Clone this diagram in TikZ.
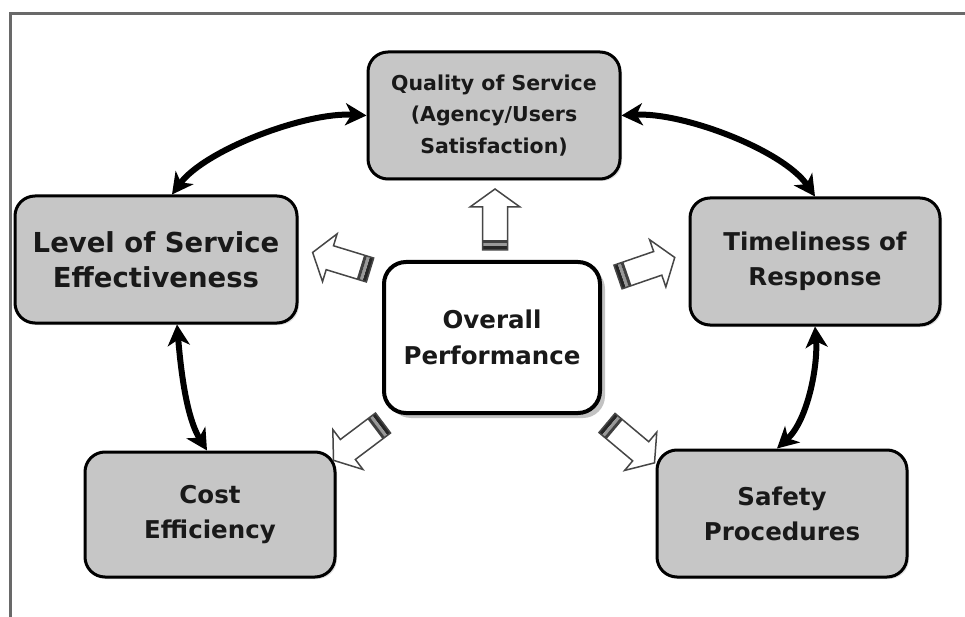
\documentclass[tikz,border=0pt]{standalone}
\usepackage{fontspec}
\setmainfont{DejaVu Sans}
\usetikzlibrary{arrows.meta,shadows,calc}
\definecolor{boxgray}{RGB}{198,198,198}
\definecolor{framegray}{RGB}{105,105,105}
\definecolor{txt}{RGB}{25,25,25}
\definecolor{shadowgray}{RGB}{135,135,135}
\definecolor{blockline}{RGB}{70,70,70}
\tikzset{
  pics/blockarrow/.style 2 args={code={
    \begin{scope}[rotate=#1]
      \fill[white] (0,-12.5) -- ({#2-18},-12.5) -- ({#2-18},-25) -- (#2,0) -- ({#2-18},25) -- ({#2-18},12.5) -- (0,12.5) -- cycle;
      \fill[black!85] (0,-12.5) rectangle (4,12.5);
      \fill[black!40] (4,-12.5) rectangle (7,12.5);
      \fill[black!75] (7,-12.5) rectangle (10,12.5);
      \draw[blockline, line width=1.5pt, line join=miter] (0,-12.5) -- ({#2-18},-12.5) -- ({#2-18},-25) -- (#2,0) -- ({#2-18},25) -- ({#2-18},12.5) -- (0,12.5) -- cycle;
    \end{scope}}}
}
\begin{document}
\begin{tikzpicture}[x=1pt,y=-1pt,
  outerbox/.style={draw=black, line width=3pt, fill=boxgray, rounded corners=20pt,
    align=center, text=txt, inner sep=0pt,
    font=\bfseries\fontsize{24.5}{35}\selectfont,
    drop shadow={shadow xshift=2pt, shadow yshift=-2pt, fill=black!25}},
  centerbox/.style={draw=black, line width=4pt, fill=white, rounded corners=22pt,
    align=center, text=txt, inner sep=0pt,
    font=\bfseries\fontsize{24.5}{36}\selectfont,
    drop shadow={shadow xshift=5pt, shadow yshift=-5pt, fill=shadowgray}},
  link/.style={line width=6pt, black,
    {Stealth[length=21pt,width=22pt,inset=6pt]}-{Stealth[length=21pt,width=22pt,inset=6pt]}}
]
\useasboundingbox (0,0) rectangle (965,617);
\fill[white] (0,0) rectangle (965,617);
\draw[framegray, line width=3pt] (965,14) -- (10,14) -- (10,617);

\node[outerbox, minimum width=252pt, minimum height=127pt,
  font=\bfseries\fontsize{20.5}{31.5}\selectfont] (qual) at (494,115.5)
  {Quality of Service\\(Agency/Users\\Satisfaction)};
\node[outerbox, minimum width=282pt, minimum height=127pt,
  font=\bfseries\fontsize{27.5}{35}\selectfont] (lvl) at (156,259.5)
  {Level of Service\\Effectiveness};
\node[outerbox, minimum width=250pt, minimum height=127pt] (tim) at (815,261.5)
  {Timeliness of\\Response};
\node[outerbox, minimum width=250pt, minimum height=125pt] (cost) at (210,514.5)
  {Cost\\Efficiency};
\node[outerbox, minimum width=250pt, minimum height=127pt] (safe) at (782,513.5)
  {Safety\\Procedures};
\node[centerbox, minimum width=216pt, minimum height=151pt] (ovr) at (492,337.5)
  {Overall\\Performance};

% curved double-headed links
\draw[link] ([xshift=16pt]lvl.north) .. controls (205,150) and (305,112) .. (qual.west);
\draw[link] (qual.east) .. controls (683,112) and (783,150) .. (tim.north);
\draw[link] ([xshift=21pt]lvl.south) .. controls (180,360) and (185,415) .. ([xshift=-3pt]cost.north);
\draw[link] (tim.south) .. controls (818,365) and (808,420) .. ([xshift=-5pt]safe.north);

% hollow block arrows from the centre
\coordinate (aq) at (495,250);
\coordinate (al) at (370,270);
\coordinate (at) at (618,277);
\coordinate (ac) at (383,423);
\coordinate (as) at (607,423);
\pic at (aq) {blockarrow={90}{61}};
\pic at (al) {blockarrow={163}{60}};
\pic at (at) {blockarrow={19}{60}};
\pic at (ac) {blockarrow={217}{62}};
\pic at (as) {blockarrow={-40}{62}};
\end{tikzpicture}
\end{document}
